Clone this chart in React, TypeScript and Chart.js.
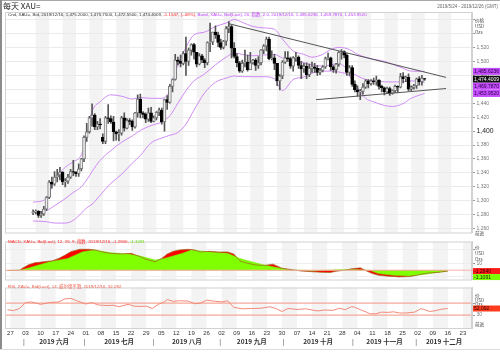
import React, { useEffect, useRef } from 'react';
import { Chart, registerables } from 'chart.js';

Chart.register(...registerables);

const FONT = '"Liberation Sans", "Noto Sans CJK SC", sans-serif';
const CJK = '"Noto Sans CJK SC", "Liberation Sans", sans-serif';

// ---- Candles: index 0 = 2019/5/24 ... 146 = 2019/12/16 (weekdays) ----
const opens = [
  1283, 1284, 1285, 1279, 1281, 1288,
  1305, 1327, 1324, 1334, 1337,
  1341, 1327, 1328, 1334, 1342,
  1341, 1339, 1346, 1360, 1391,
  1399, 1419, 1423, 1406, 1410,
  1391, 1385, 1419, 1418, 1413,
  1399, 1396, 1397, 1419, 1404,
  1415, 1414, 1406, 1426, 1446,
  1426, 1424, 1417, 1426, 1414,
  1419, 1427, 1430, 1413, 1445,
  1441, 1464, 1474, 1502, 1500,
  1497, 1511, 1500, 1516, 1524,
  1513, 1496, 1508, 1502, 1498,
  1527, 1528, 1542, 1538, 1527,
  1520, 1529, 1547, 1550, 1519,
  1507, 1498, 1486, 1497, 1499,
  1488, 1498, 1502, 1494, 1498,
  1516, 1522, 1532, 1504, 1505,
  1497, 1472, 1479, 1499, 1505,
  1504, 1493, 1505, 1506, 1494,
  1489, 1493, 1481, 1490, 1492,
  1490, 1484, 1487, 1492, 1504,
  1505, 1492, 1488, 1496, 1513,
  1514, 1509, 1484, 1491, 1467,
  1459, 1456, 1457, 1463, 1472,
  1468, 1472, 1471, 1473, 1464,
  1462, 1456, 1461, 1454, 1458,
  1464, 1463, 1478, 1475, 1477,
  1460, 1463, 1465, 1475, 1471,
  1475.2,
];
const highs = [
  1287, 1287, 1286, 1285, 1292, 1306,
  1329, 1334, 1342, 1345, 1348,
  1342, 1332, 1338, 1345, 1358,
  1342, 1353, 1361, 1393, 1411,
  1421, 1439, 1425, 1414, 1418,
  1396, 1421, 1438, 1422, 1421,
  1400, 1402, 1421, 1426, 1418,
  1418, 1416, 1427, 1452, 1453,
  1428, 1426, 1433, 1434, 1422,
  1428, 1433, 1433, 1446, 1451,
  1467, 1475, 1510, 1506, 1509,
  1514, 1535, 1519, 1525, 1526,
  1513, 1511, 1510, 1504, 1528,
  1555, 1542, 1551, 1542, 1532,
  1530, 1550, 1557, 1552, 1527,
  1511, 1500, 1502, 1516, 1509,
  1513, 1503, 1504, 1507, 1517,
  1524, 1535, 1535, 1515, 1510,
  1497, 1481, 1501, 1514, 1514,
  1506, 1507, 1513, 1508, 1500,
  1497, 1498, 1496, 1499, 1497,
  1494, 1490, 1494, 1506, 1512,
  1506, 1494, 1497, 1514, 1517,
  1515, 1511, 1494, 1494, 1472,
  1465, 1460, 1468, 1474, 1474,
  1474, 1476, 1479, 1474, 1466,
  1463, 1463, 1463, 1459, 1466,
  1465, 1483, 1484, 1479, 1482,
  1465, 1467, 1476, 1478, 1480,
  1475.75,
];
const lows = [
  1280, 1281, 1276, 1276, 1279, 1286,
  1303, 1318, 1322, 1327, 1330,
  1323, 1320, 1325, 1332, 1336,
  1335, 1335, 1343, 1356, 1385,
  1397, 1407, 1402, 1402, 1403,
  1382, 1382, 1411, 1411, 1386,
  1387, 1386, 1394, 1400, 1403,
  1409, 1401, 1404, 1420, 1419,
  1419, 1412, 1414, 1412, 1413,
  1416, 1422, 1410, 1400, 1431,
  1440, 1456, 1473, 1495, 1492,
  1495, 1480, 1494, 1509, 1503,
  1492, 1495, 1498, 1491, 1495,
  1514, 1524, 1533, 1521, 1517,
  1518, 1523, 1541, 1505, 1505,
  1492, 1484, 1484, 1492, 1486,
  1488, 1496, 1487, 1490, 1495,
  1511, 1515, 1502, 1502, 1488,
  1465, 1459, 1475, 1497, 1500,
  1490, 1486, 1500, 1490, 1475,
  1484, 1475, 1478, 1484, 1484,
  1480, 1481, 1485, 1490, 1502,
  1487, 1484, 1483, 1493, 1503,
  1505, 1480, 1480, 1464, 1456,
  1450, 1445, 1453, 1461, 1462,
  1466, 1467, 1466, 1460, 1456,
  1452, 1454, 1451, 1453, 1455,
  1455, 1462, 1469, 1471, 1458,
  1458, 1460, 1461, 1466, 1466,
  1472.55,
];
const closes = [
  1284, 1285, 1279, 1281, 1288, 1305,
  1327, 1324, 1334, 1337, 1341,
  1327, 1328, 1334, 1342, 1341,
  1339, 1346, 1360, 1391, 1399,
  1419, 1423, 1406, 1410, 1409,
  1385, 1419, 1418, 1413, 1399,
  1396, 1397, 1419, 1404, 1415,
  1414, 1406, 1426, 1446, 1426,
  1424, 1417, 1426, 1414, 1419,
  1427, 1430, 1413, 1445, 1441,
  1464, 1474, 1502, 1500, 1497,
  1511, 1500, 1516, 1524, 1513,
  1496, 1508, 1502, 1498, 1527,
  1528, 1542, 1538, 1527, 1520,
  1529, 1547, 1550, 1519, 1507,
  1498, 1486, 1497, 1499, 1488,
  1498, 1502, 1494, 1498, 1516,
  1522, 1532, 1504, 1505, 1497,
  1472, 1479, 1499, 1505, 1504,
  1493, 1505, 1506, 1494, 1489,
  1493, 1481, 1490, 1492, 1490,
  1484, 1487, 1492, 1504, 1505,
  1492, 1488, 1496, 1513, 1514,
  1509, 1484, 1491, 1467, 1459,
  1456, 1457, 1463, 1472, 1468,
  1472, 1471, 1473, 1464, 1462,
  1456, 1461, 1454, 1458, 1464,
  1463, 1478, 1475, 1477, 1460,
  1463, 1465, 1475, 1471, 1476,
  1474.4009,
];

// ---- Bollinger band (20, 2.0), read at sample days ----
const bandIdx = [0, 5, 8, 12, 15, 18, 20, 22, 25, 29, 33, 37, 40, 44, 48, 51, 54, 57, 60, 64, 68, 72, 75, 78, 82, 86, 90, 93, 97, 101, 104, 108, 111, 114, 118, 121, 124, 127, 131, 134, 138, 141, 146];
const bandUpper = [1298, 1303, 1330, 1348, 1356, 1366, 1392, 1428, 1442, 1452, 1450, 1446, 1448, 1447, 1447, 1458, 1495, 1520, 1538, 1542, 1550, 1555, 1560, 1556, 1550, 1548, 1546, 1532, 1515, 1510, 1506, 1510, 1517, 1520, 1517, 1510, 1506, 1503, 1500, 1496, 1490, 1486, 1485.6236];
const bandMid = [1284, 1286, 1293, 1303, 1312, 1320, 1330, 1342, 1358, 1372, 1384, 1393, 1401, 1408, 1413, 1422, 1440, 1458, 1472, 1482, 1495, 1506, 1512, 1510, 1508, 1509, 1510, 1505, 1503, 1498, 1495, 1493, 1495, 1497, 1486, 1479, 1474, 1472, 1470.6, 1470.5, 1470.8, 1472, 1469.787];
const bandLower = [1271, 1270, 1268, 1268, 1272, 1282, 1290, 1295, 1308, 1325, 1338, 1354, 1365, 1383, 1390, 1394, 1398, 1410, 1430, 1455, 1470, 1476, 1479, 1478, 1478, 1478, 1475, 1458, 1474, 1477.6, 1483, 1486, 1486, 1484.7, 1479, 1462, 1447, 1442, 1436.7, 1435.3, 1439.5, 1447, 1453.952];

// ---- Trend lines (day index, price) ----
const upperTrendIdx = [73, 154];
const upperTrendVal = [1554, 1477];
const lowerTrendIdx = [105.5, 154];
const lowerTrendVal = [1445, 1461];

// ---- MACD (12, 26, 9) ----
const macdIdx = [0, 4, 5, 7, 9, 12, 15, 17, 19, 21, 24, 27, 29, 31, 34, 38, 41, 44, 46, 49, 51, 53, 55, 57, 60, 62, 64, 67, 70, 73, 75, 77, 79, 82, 85, 88, 91, 94, 97, 100, 104, 107, 109, 112, 114, 117, 119, 121, 123, 126, 130, 134, 137, 140, 143, 146];
const macdVals = [-0.5, 0, 3, 8, 11, 12.5, 14, 17.5, 22, 27.5, 31, 31, 30, 27.5, 25, 24, 25, 20, 16, 12.5, 17, 24, 28, 30, 31, 30, 27, 28, 27, 27, 24, 14, 11, 8, 7, 9, 3, 1, -1, -2, -3, -3.5, -1.5, 0, 2, 3.5, -1, -5, -7.5, -8.8, -10, -9, -6, -4, -3, -1.284];
const signalIdx = [0, 4, 6, 9, 14, 20, 25, 29, 34, 40, 44, 49, 52, 58, 61, 66, 73, 77, 81, 84, 88, 91, 94, 98, 101, 109, 114, 120, 123, 128, 133, 138, 142, 146];
const signalVals = [-0.5, -0.3, 2, 6, 12.5, 17.5, 27.5, 30, 26, 24, 21, 15, 17.5, 25, 30, 27.5, 25, 17.5, 12.5, 9, 5, 2.5, 0, 0, -1, 0.6, 1.2, 0, -5, -7.5, -8.75, -6.25, -3.75, -1.1091];

// ---- RSI (14) ----
const rsiIdx = [0, 2, 4, 6, 8, 11, 14, 17, 19, 21, 23, 26, 28, 30, 33, 35, 37, 40, 42, 44, 46, 48, 50, 52, 53, 55, 57, 60, 62, 64, 66, 69, 71, 73, 75, 78, 81, 84, 87, 89, 91, 93, 96, 99, 101, 103, 105, 108, 110, 112, 114, 115, 117, 119, 120, 122, 124, 126, 128, 130, 132, 135, 137, 138, 140, 142, 144, 146];
const rsiVals = [48, 45, 52, 72, 74, 66, 72, 74, 84, 86, 78, 67, 72, 64, 62, 63, 58, 66, 60, 59, 60, 52, 66, 74, 82, 76, 78, 77, 68, 70, 80, 76, 74, 78, 56, 51, 52, 53, 58, 52, 42, 52, 49, 51, 47, 44, 47, 46, 53, 48, 58, 57, 48, 40, 35, 34, 40, 39, 41, 37, 37, 40, 51, 49, 42, 45, 50, 52.092];
const rsiLevels = [70, 30];

// ---- Axis labels ----
const dayLabels = ['27', '03', '10', '17', '24', '01', '08', '15', '22', '29', '05', '12', '19', '26', '02', '09', '16', '23', '30', '07', '14', '21', '28', '04', '11', '18', '25', '02', '09', '16', '23'];
const monthNames = ['2019 六月', '2019 七月', '2019 八月', '2019 九月', '2019 十月', '2019 十一月', '2019 十二月'];
const monthFirstIdx = [6, 26, 49, 71, 92, 115, 136];
const priceTicks = [1260, 1280, 1300, 1320, 1340, 1360, 1380, 1400, 1420, 1440, 1460, 1480, 1500, 1520, 1540, 1560];
const macdTicks = [-10, 0, 10, 20, 30, 40];

const X_MIN = -0.8;
const X_MAX = 154;
const mondayIdx = dayLabels.map((_, k) => 1 + 5 * k);

const monthTickVals: number[] = [];
const monthTickText: string[] = [];
monthFirstIdx.forEach((f, k) => {
  const start = f - 0.5;
  const end = k + 1 < monthFirstIdx.length ? monthFirstIdx[k + 1] - 0.5 : X_MAX;
  monthTickVals.push(start);
  monthTickText.push('|');
  monthTickVals.push((start + end) / 2);
  monthTickText.push(monthNames[k]);
});

type Seg = { text: string; color: string };
type Box = { value: number; text: string; bg: string; fg: string };

const mainHeader: Seg[] = [
  { text: 'Cnd, XAU=, Bid, 2019/12/16, 1,475.2000, 1,475.7500, 1,472.5500, 1,474.4009, ', color: '#333' },
  { text: '-1.1547, (-.08%), ', color: '#ff2a2a' },
  { text: 'Band, XAU=, Bid(Last), 20, 指数, 2.0, 2019/12/16, 1,485.6236, 1,469.7870, 1,453.9520', color: '#c040ff' },
];
const macdHeader: Seg[] = [
  { text: 'MACD, XAU=, Bid(Last), 12, 26, 9, 指数, 2019/12/16, -1.2840, ', color: '#ff2a2a' },
  { text: '-1.1091', color: '#66dd00' },
];
const rsiHeader: Seg[] = [
  { text: 'RSI, XAU=, Bid(Last), 14, 威尔德平滑, 2019/12/16, 52.092', color: '#f05a48' },
];

const mainBoxes: Box[] = [
  { value: 1485.6236, text: '1,485.6236', bg: '#c64cff', fg: '#2a0040' },
  { value: 1474.4009, text: '1,474.4009', bg: '#111111', fg: '#ffffff' },
  { value: 1469.787, text: '1,469.7870', bg: '#c64cff', fg: '#2a0040' },
  { value: 1453.952, text: '1,453.9520', bg: '#c64cff', fg: '#2a0040' },
];
const macdBoxes: Box[] = [
  { value: -1.284, text: '-1.2840', bg: '#ff1a1a', fg: '#300000' },
  { value: -1.1091, text: '-1.1091', bg: '#7cfc00', fg: '#203000' },
];
const rsiBoxes: Box[] = [{ value: 52.092, text: '52.092', bg: '#ff3c1e', fg: '#300000' }];

function drawSegs(ctx: CanvasRenderingContext2D, segs: Seg[], x: number, y: number, size: number) {
  ctx.font = `${size}px ${FONT}`;
  ctx.textBaseline = 'middle';
  ctx.textAlign = 'left';
  let cx = x;
  for (const s of segs) {
    ctx.fillStyle = s.color;
    ctx.fillText(s.text, cx, y);
    cx += ctx.measureText(s.text).width;
  }
}

function panelPlugin(opts: {
  header: Seg[];
  headerY: number;
  units: { text: string; y: number }[];
  boxes: Box[];
  boxH: number;
  extra?: (chart: any) => void;
}) {
  return {
    id: 'panel',
    beforeDraw(chart: any) {
      const { ctx, chartArea: a, scales } = chart;
      const x = scales.x;
      ctx.save();
      ctx.fillStyle = '#f3f3f3';
      for (let k = 0; k < mondayIdx.length; k += 2) {
        const l = x.getPixelForValue(mondayIdx[k]);
        const r = Math.min(x.getPixelForValue(mondayIdx[k] + 5), a.right);
        if (r > l) ctx.fillRect(l, a.top, r - l, a.bottom - a.top);
      }
      ctx.restore();
    },
    afterDraw(chart: any) {
      const { ctx, chartArea: a, scales } = chart;
      ctx.save();
      ctx.strokeStyle = '#d2d2d2';
      ctx.lineWidth = 1;
      ctx.strokeRect(a.left + 0.5, a.top + 0.5, a.right - a.left - 1, a.bottom - a.top);
      if (opts.extra) opts.extra(chart);
      drawSegs(ctx, opts.header, a.left + 3, opts.headerY, 4.4);
      ctx.fillStyle = '#444';
      ctx.font = `4.6px ${CJK}`;
      ctx.textBaseline = 'middle';
      for (const u of opts.units) ctx.fillText(u.text, a.right + 3, u.y);
      const y = scales.y;
      let prev = -1e9;
      ctx.font = `5px ${FONT}`;
      for (const b of opts.boxes) {
        let py = y.getPixelForValue(b.value);
        if (py < prev + opts.boxH) py = prev + opts.boxH;
        prev = py;
        ctx.fillStyle = b.bg;
        ctx.fillRect(a.right + 1, py - opts.boxH / 2, chart.width - a.right - 1, opts.boxH);
        ctx.fillStyle = b.fg;
        ctx.fillText(b.text, a.right + 2, py + 0.3);
      }
      ctx.restore();
    },
  };
}

const hiddenX = { type: 'linear', min: X_MIN, max: X_MAX, display: false };

function rightAxis(extra: any) {
  return {
    type: 'linear',
    position: 'right',
    afterFit: (s: any) => {
      s.width = 28;
    },
    border: { display: true, color: '#d2d2d2' },
    ...extra,
  };
}

export default function App() {
  const mainRef = useRef<HTMLCanvasElement>(null);
  const macdRef = useRef<HTMLCanvasElement>(null);
  const rsiRef = useRef<HTMLCanvasElement>(null);

  useEffect(() => {
    const idx = closes.map((_, i) => i);
    const isUp = (i: number) => closes[i] >= opens[i];
    const base = {
      responsive: false,
      animation: false,
      devicePixelRatio: 1,
      events: [],
      plugins: { legend: { display: false }, tooltip: { enabled: false } },
    };

    const main = new Chart(mainRef.current!, {
      type: 'bar',
      data: {
        datasets: [
          {
            type: 'line',
            data: upperTrendIdx.map((x, k) => ({ x, y: upperTrendVal[k] })),
            borderColor: '#555',
            borderWidth: 1,
            pointRadius: 0,
            order: 0,
          },
          {
            type: 'line',
            data: lowerTrendIdx.map((x, k) => ({ x, y: lowerTrendVal[k] })),
            borderColor: '#555',
            borderWidth: 1,
            pointRadius: 0,
            order: 0,
          },
          {
            type: 'bar',
            data: idx.map((i) => ({ x: i, y: [opens[i], closes[i]] })),
            grouped: false,
            barThickness: 3,
            borderSkipped: false,
            borderWidth: 1,
            backgroundColor: (c: any) => (isUp(c.dataIndex) ? '#ececec' : '#000'),
            borderColor: (c: any) => (isUp(c.dataIndex) ? '#7a7a7a' : '#000'),
            order: 1,
          },
          {
            type: 'bar',
            data: idx.map((i) => ({ x: i, y: [lows[i], highs[i]] })),
            grouped: false,
            barThickness: 1,
            borderWidth: 0,
            backgroundColor: '#555',
            order: 2,
          },
          ...[bandUpper, bandMid, bandLower].map((arr) => ({
            type: 'line',
            data: bandIdx.map((x, k) => ({ x, y: arr[k] })),
            borderColor: '#d08af5',
            borderWidth: 1,
            pointRadius: 0,
            cubicInterpolationMode: 'monotone',
            order: 3,
          })),
        ],
      } as any,
      options: {
        ...base,
        layout: { padding: { left: 5, top: 12, right: 0, bottom: 1 } },
        scales: {
          x: hiddenX,
          y: rightAxis({
            min: 1254.5,
            max: 1570.8,
            afterBuildTicks: (s: any) => {
              s.ticks = priceTicks.map((v) => ({ value: v }));
            },
            grid: { color: '#ebebeb', tickColor: '#999', tickLength: 3 },
            ticks: {
              padding: 1.5,
              callback: (v: any) => (v > 1520 ? '' : Number(v).toLocaleString('en-US')),
              font: (c: any) => ({ family: FONT, size: c.tick && c.tick.value === 1400 ? 6.8 : 5 }),
              color: (c: any) => (c.tick && c.tick.value === 1400 ? '#222' : '#777'),
            },
          }),
        },
      } as any,
      plugins: [
        panelPlugin({
          header: mainHeader,
          headerY: 15,
          units: [
            { text: '价格', y: 20 },
            { text: 'USD', y: 26 },
            { text: 'Ozs', y: 32 },
            { text: '前进', y: 233 },
          ],
          boxes: mainBoxes,
          boxH: 7,
          extra: (chart: any) => {
            const ctx = chart.ctx;
            ctx.fillStyle = '#222';
            ctx.font = `8px ${CJK}`;
            ctx.textBaseline = 'middle';
            ctx.textAlign = 'left';
            ctx.fillText('每天 XAU=', 3, 6);
            ctx.fillStyle = '#666';
            ctx.font = `4.5px ${FONT}`;
            ctx.textAlign = 'right';
            ctx.fillText('2019/5/24 - 2019/12/26 (GMT)', 498, 6.5);
            ctx.textAlign = 'left';
          },
        }),
      ],
    });

    const macd = new Chart(macdRef.current!, {
      type: 'line',
      data: {
        datasets: [
          {
            data: macdIdx.map((x, k) => ({ x, y: macdVals[k] })),
            borderColor: 'rgba(160,100,30,0.9)',
            borderWidth: 0.8,
            pointRadius: 0,
            fill: false,
            order: 0,
          },
          {
            data: signalIdx.map((x, k) => ({ x, y: signalVals[k] })),
            borderColor: '#74e800',
            borderWidth: 0.5,
            backgroundColor: '#80ff00',
            pointRadius: 0,
            fill: 'origin',
            order: 1,
          },
          {
            data: macdIdx.map((x, k) => ({ x, y: macdVals[k] })),
            borderWidth: 0,
            backgroundColor: '#ff0000',
            pointRadius: 0,
            fill: 'origin',
            order: 2,
          },
        ],
      } as any,
      options: {
        ...base,
        layout: { padding: { left: 5, top: 1, right: 0, bottom: 1 } },
        scales: {
          x: hiddenX,
          y: rightAxis({
            min: -13.75,
            max: 42.5,
            afterBuildTicks: (s: any) => {
              s.ticks = macdTicks.map((v) => ({ value: v }));
            },
            grid: { color: '#eeeeee', tickColor: '#999', tickLength: 3 },
            ticks: {
              padding: 1.5,
              callback: (v: any) => (v === 10 ? '10' : ''),
              font: { family: FONT, size: 5 },
              color: '#777',
            },
          }),
        },
      } as any,
      plugins: [
        panelPlugin({
          header: macdHeader,
          headerY: 4.5,
          units: [
            { text: '价', y: 10 },
            { text: 'USD', y: 16 },
            { text: 'Ozs', y: 22 },
          ],
          boxes: macdBoxes,
          boxH: 6,
          extra: (chart: any) => {
            const { ctx, chartArea: a, scales } = chart;
            const y0 = scales.y.getPixelForValue(0);
            ctx.strokeStyle = '#f6b0a8';
            ctx.lineWidth = 1;
            ctx.beginPath();
            ctx.moveTo(a.left, y0);
            ctx.lineTo(chart.width, y0);
            ctx.stroke();
          },
        }),
      ],
    });

    const rsi = new Chart(rsiRef.current!, {
      type: 'line',
      data: {
        datasets: [
          {
            data: rsiIdx.map((x, k) => ({ x, y: rsiVals[k] })),
            borderColor: '#f28a78',
            borderWidth: 1,
            pointRadius: 0,
            fill: false,
          },
        ],
      } as any,
      options: {
        ...base,
        layout: { padding: { left: 5, top: 1, right: 0, bottom: 2 } },
        scales: {
          x: {
            type: 'linear',
            min: X_MIN,
            max: X_MAX,
            position: 'bottom',
            weight: 0,
            afterFit: (s: any) => {
              s.height = 10;
            },
            afterBuildTicks: (s: any) => {
              s.ticks = mondayIdx.map((v) => ({ value: v }));
            },
            grid: { display: false, drawTicks: false },
            border: { display: false },
            ticks: {
              autoSkip: false,
              maxRotation: 0,
              minRotation: 0,
              padding: 2,
              font: { family: FONT, size: 6 },
              color: '#333',
              callback: (_v: any, i: number) => dayLabels[i],
            },
          },
          xm: {
            type: 'linear',
            min: X_MIN,
            max: X_MAX,
            position: 'bottom',
            weight: 1,
            afterFit: (s: any) => {
              s.height = 12;
            },
            afterBuildTicks: (s: any) => {
              s.ticks = monthTickVals.map((v) => ({ value: v }));
            },
            grid: { display: false, drawTicks: false },
            border: { display: false },
            ticks: {
              autoSkip: false,
              maxRotation: 0,
              minRotation: 0,
              padding: 0,
              font: (c: any) =>
                monthTickText[c.index] === '|'
                  ? { family: FONT, size: 7 }
                  : { family: CJK, size: 6.5, weight: 'bold' },
              color: (c: any) => (monthTickText[c.index] === '|' ? '#666' : '#333'),
              callback: (_v: any, i: number) => monthTickText[i],
            },
          },
          y: rightAxis({
            min: -13.1,
            max: 122.3,
            afterBuildTicks: (s: any) => {
              s.ticks = rsiLevels.map((v) => ({ value: v }));
            },
            grid: { drawOnChartArea: false, tickColor: '#999', tickLength: 3 },
            ticks: {
              padding: 1.5,
              callback: (v: any) => (v === 30 ? '30' : ''),
              font: { family: FONT, size: 5 },
              color: '#777',
            },
          }),
        },
      } as any,
      plugins: [
        {
          id: 'levels',
          beforeDatasetsDraw(chart: any) {
            const { ctx, chartArea: a, scales } = chart;
            ctx.save();
            ctx.strokeStyle = '#f7a898';
            ctx.lineWidth = 1.4;
            for (const lv of rsiLevels) {
              const y = scales.y.getPixelForValue(lv);
              ctx.beginPath();
              ctx.moveTo(a.left, y);
              ctx.lineTo(a.right, y);
              ctx.stroke();
            }
            ctx.restore();
          },
        },
        panelPlugin({
          header: rsiHeader,
          headerY: 3.5,
          units: [
            { text: '价', y: 12 },
            { text: 'USD', y: 17 },
            { text: 'Ozs', y: 21 },
            { text: '前进', y: 41 },
          ],
          boxes: rsiBoxes,
          boxH: 6,
        }),
      ],
    });

    return () => {
      main.destroy();
      macd.destroy();
      rsi.destroy();
    };
  }, []);

  return (
    <div
      style={{
        position: 'absolute',
        left: 0,
        top: 0,
        width: 500,
        height: 352,
        background: '#fff',
        overflow: 'hidden',
      }}
    >
      <canvas ref={mainRef} width={500} height={237} style={{ position: 'absolute', left: 0, top: 0 }} />
      <canvas ref={macdRef} width={500} height={47} style={{ position: 'absolute', left: 0, top: 237 }} />
      <canvas ref={rsiRef} width={500} height={69} style={{ position: 'absolute', left: 0, top: 283 }} />
      <div style={{ position: 'absolute', left: 0, top: 0, width: 500, height: 1, background: '#a8a8a8' }} />
      <div style={{ position: 'absolute', left: 0, top: 0, width: 2, height: 350, background: '#8c8c8c' }} />
      <div style={{ position: 'absolute', left: 0, top: 349, width: 500, height: 1, background: '#dddddd' }} />
    </div>
  );
}
